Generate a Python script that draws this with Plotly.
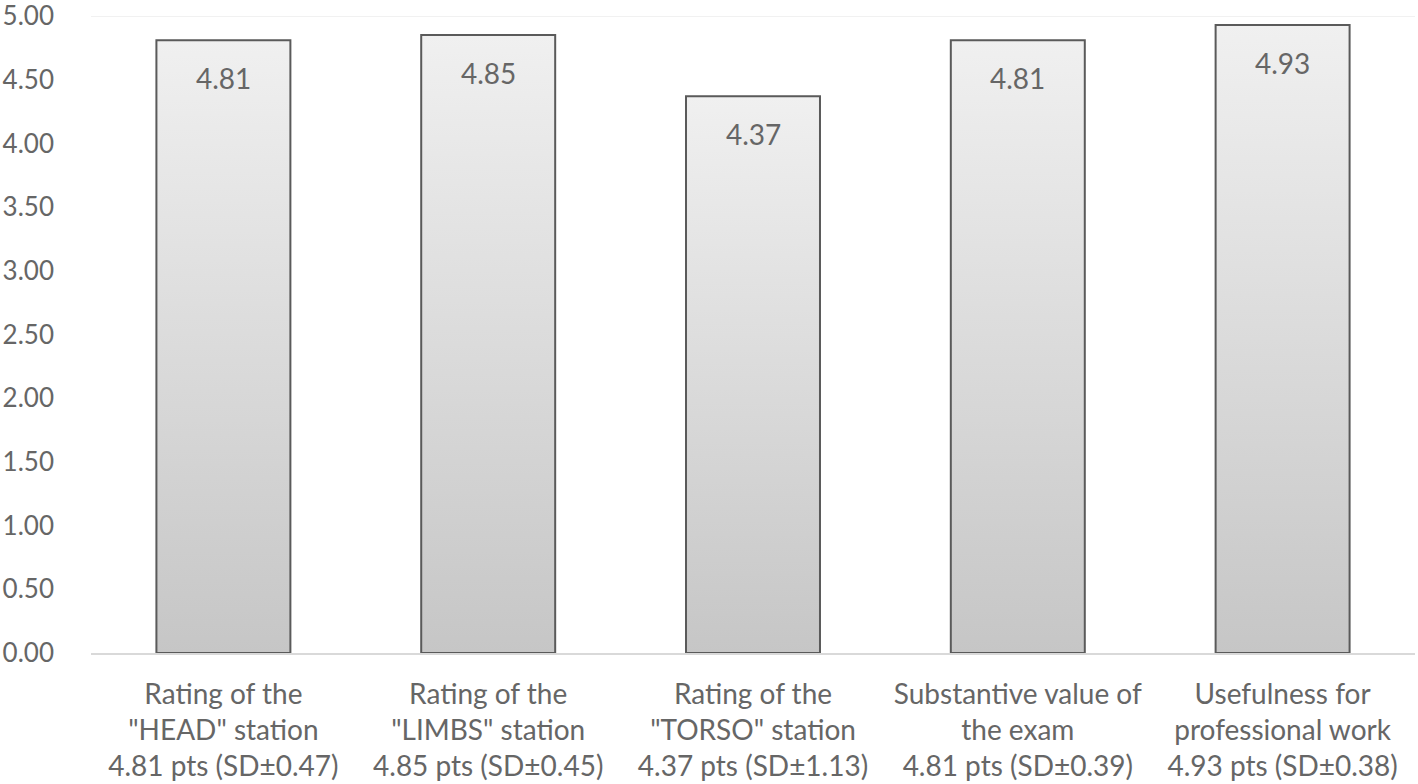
import plotly.graph_objects as go

categories = [
    'Rating of the<br>"HEAD" station<br>4.81 pts (SD±0.47)',
    'Rating of the<br>"LIMBS" station<br>4.85 pts (SD±0.45)',
    'Rating of the<br>"TORSO" station<br>4.37 pts (SD±1.13)',
    'Substantive value of<br>the exam<br>4.81 pts (SD±0.39)',
    'Usefulness for<br>professional work<br>4.93 pts (SD±0.38)',
]
values = [4.81, 4.85, 4.37, 4.81, 4.93]
y_ticks = [0, 0.5, 1, 1.5, 2, 2.5, 3, 3.5, 4, 4.5, 5]

FONT = "Lato"
GRAY = "#666666"
FS = 28
half_w = 0.253

fig = go.Figure()
for i, v in enumerate(values):
    fig.add_trace(go.Scatter(
        x=[i - half_w, i - half_w, i + half_w, i + half_w, i - half_w],
        y=[0, v, v, 0, 0],
        mode="lines",
        fill="toself",
        fillgradient=dict(type="vertical", colorscale=[[0, "#c6c6c6"], [1, "#f0f0f0"]], start=0, stop=v),
        line=dict(color="#5a5a5a", width=2),
        hoverinfo="skip",
        showlegend=False,
    ))
    fig.add_annotation(x=i, y=v, text=f"{v:.2f}", showarrow=False, yshift=-38,
                       font=dict(family=FONT, size=FS, color=GRAY))

fig.add_shape(type="line", xref="paper", yref="y", x0=0, x1=1, y0=5, y1=5,
              line=dict(color="#ececec", width=1.5), layer="below")

fig.update_layout(
    width=1418, height=784,
    margin=dict(l=91, r=3, t=16, b=131),
    plot_bgcolor="white", paper_bgcolor="white",
    font=dict(family=FONT, size=FS, color=GRAY),
    xaxis=dict(
        range=[-0.5, 4.5], automargin=False,
        tickmode="array", tickvals=list(range(len(categories))), ticktext=categories,
        showgrid=False, zeroline=False,
        showline=True, linecolor="#d9d9d9", linewidth=2,
        ticks="", ticklabelstandoff=15,
        tickfont=dict(family=FONT, size=FS, color=GRAY),
    ),
    yaxis=dict(
        range=[0, 5], automargin=False, tickmode="array", tickvals=y_ticks,
        ticktext=[f"{t:.2f}" for t in y_ticks],
        showgrid=False, zeroline=False, showline=False,
        ticks="", ticklabelstandoff=36, ticklabeloverflow="allow",
        tickfont=dict(family=FONT, size=26, color=GRAY),
    ),
)

fig.write_html("out.html", config={"displayModeBar": False},
               post_script="document.body.style.margin='0';")
